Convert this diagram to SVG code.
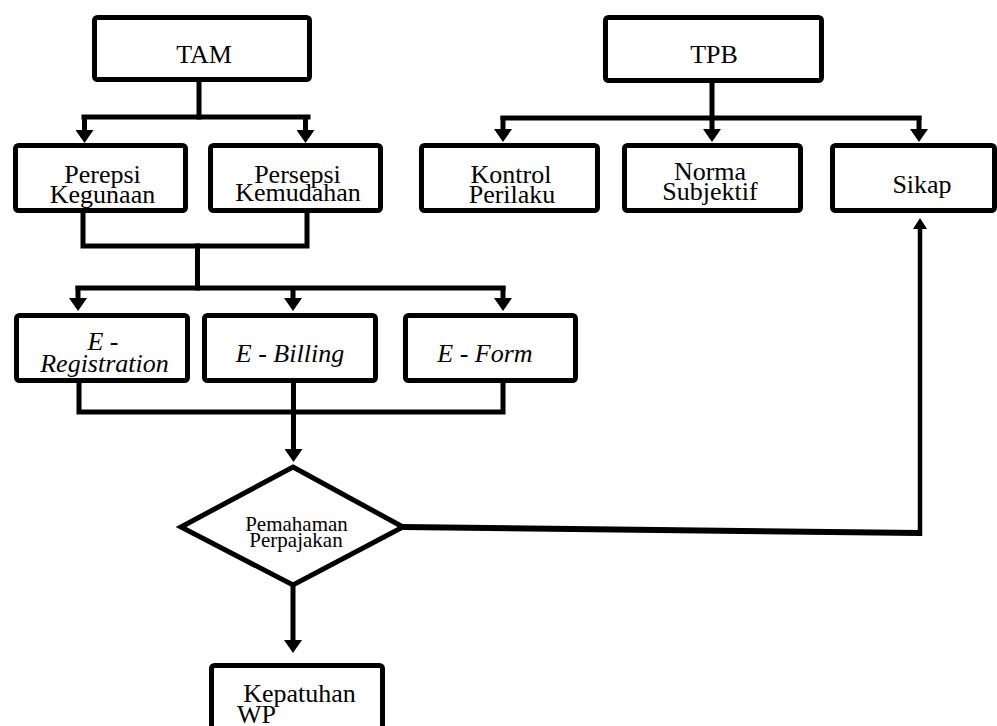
<svg xmlns="http://www.w3.org/2000/svg" width="997" height="726" viewBox="0 0 997 726">
<style>
.box{fill:#fff;stroke:#000;stroke-width:5}
.ln{fill:none;stroke:#000;stroke-width:5;stroke-linecap:square;stroke-linejoin:miter}
.t{font-family:"Liberation Serif","Times New Roman",serif;font-size:26px;fill:#000;text-anchor:middle}
.i{font-style:italic}
</style>
<defs>
<marker id="ah" viewBox="0 0 13 18" refX="0" refY="9" markerWidth="13" markerHeight="18" markerUnits="userSpaceOnUse" orient="auto">
<path d="M0,0 L13,9 L0,18 Z" fill="#000"/>
</marker>
<marker id="ah2" viewBox="0 0 11 14" refX="0" refY="7" markerWidth="11" markerHeight="14" markerUnits="userSpaceOnUse" orient="auto">
<path d="M0,0 L11,7 L0,14 Z" fill="#000"/>
</marker>
</defs>
<rect width="997" height="726" fill="#fff"/>
<g id="connectors">
<!-- TAM tree -->
<path class="ln" d="M199,82 V117"/>
<path class="ln" d="M84,117 H308"/>
<path class="ln" style="stroke-linecap:butt" d="M84.5,115 V130" marker-end="url(#ah)"/>
<path class="ln" style="stroke-linecap:butt" d="M305.5,115 V130" marker-end="url(#ah)"/>
<!-- TPB tree -->
<path class="ln" d="M712,83 V118"/>
<path class="ln" d="M503,118 H919"/>
<path class="ln" style="stroke-linecap:butt" d="M503,116 V129" marker-end="url(#ah)"/>
<path class="ln" style="stroke-linecap:butt" d="M712,116 V129" marker-end="url(#ah)"/>
<path class="ln" style="stroke-linecap:butt" d="M919,116 V129" marker-end="url(#ah)"/>
<!-- merge perceptions -->
<path class="ln" d="M83,213 V246 H307 V213"/>
<path class="ln" d="M197.5,246 V288"/>
<path class="ln" d="M78,288 H503"/>
<path class="ln" style="stroke-linecap:butt" d="M78,286 V298" marker-end="url(#ah)"/>
<path class="ln" style="stroke-linecap:butt" d="M293,286 V298" marker-end="url(#ah)"/>
<path class="ln" style="stroke-linecap:butt" d="M503,286 V298" marker-end="url(#ah)"/>
<!-- merge e-services -->
<path class="ln" d="M79,383 V412 H503 V383"/>
<path class="ln" style="stroke-linecap:butt" d="M293.5,383 V449" marker-end="url(#ah)"/>
<!-- diamond to Kepatuhan -->
<path class="ln" style="stroke-linecap:butt" d="M293,585 V640" marker-end="url(#ah)"/>
<!-- feedback to Sikap -->
<path fill="none" stroke="#000" stroke-width="6" d="M403,527 L920,533"/>
<path fill="none" stroke="#000" stroke-width="4.5" d="M920,536 V229" marker-end="url(#ah2)"/>
</g>
<g id="tam"><rect class="box" x="94.5" y="17.5" width="215" height="62" rx="3"/><text class="t" x="204" y="63">TAM</text></g>
<g id="tpb"><rect class="box" x="605.5" y="17.5" width="216" height="63" rx="3"/><text class="t" x="714" y="63">TPB</text></g>
<g id="perepsi"><rect class="box" x="15.5" y="145.5" width="170" height="65" rx="3"/><text class="t" x="102.5" y="183">Perepsi</text><text class="t" x="102.5" y="203">Kegunaan</text></g>
<g id="persepsi"><rect class="box" x="210.5" y="145.5" width="170" height="65" rx="3"/><text class="t" x="297.5" y="183">Persepsi</text><text class="t" x="298" y="201">Kemudahan</text></g>
<g id="kontrol"><rect class="box" x="421.5" y="145.5" width="176" height="65" rx="3"/><text class="t" x="511" y="183">Kontrol</text><text class="t" x="512" y="203">Perilaku</text></g>
<g id="norma"><rect class="box" x="624.5" y="145.5" width="176" height="65" rx="3"/><text class="t" x="710" y="180">Norma</text><text class="t" x="710" y="200">Subjektif</text></g>
<g id="sikap"><rect class="box" x="832.5" y="145.5" width="162" height="65" rx="3"/><text class="t" x="922" y="193">Sikap</text></g>
<g id="ereg"><rect class="box" x="16.5" y="315.5" width="171" height="65" rx="3"/><text class="t i" x="103" y="350">E -</text><text class="t i" x="104.5" y="372">Registration</text></g>
<g id="ebill"><rect class="box" x="204.5" y="315.5" width="171" height="65" rx="3"/><text class="t i" x="290" y="362">E - Billing</text></g>
<g id="eform"><rect class="box" x="405.5" y="315.5" width="170" height="65" rx="3"/><text class="t i" x="485" y="362">E - Form</text></g>
<g id="pemahaman"><polygon points="293,467 403,527 293,585 181,527" fill="#fff" stroke="#000" stroke-width="5" stroke-linejoin="miter"/><text class="t" style="font-size:21px" x="296.5" y="531">Pemahaman</text><text class="t" style="font-size:21px" x="296" y="547">Perpajakan</text></g>
<g id="kepatuhan"><rect class="box" x="211.5" y="665.5" width="171" height="80" rx="3"/><text class="t" x="299.5" y="702">Kepatuhan</text><text class="t" style="text-anchor:start" x="237" y="723">WP</text></g>
</svg>
